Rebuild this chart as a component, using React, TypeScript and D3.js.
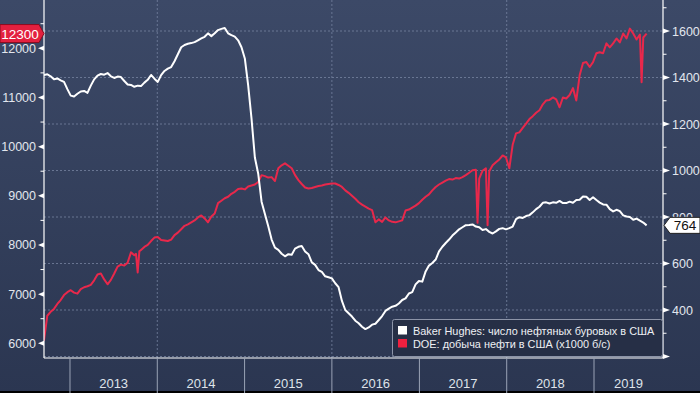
import React from "react";
import * as d3 from "d3";

const W = 700;
const H = 393;

// biweekly observations starting 2012-09-14
const seriesStart = new Date(2012, 8, 14);
const stepDays = 14;

// Baker Hughes oil rigs (right axis)
const rigValues = [
  1411, 1414, 1405, 1392, 1396, 1388, 1381, 1350, 1322, 1318,
  1330, 1340, 1342, 1334, 1365, 1392, 1408, 1415, 1412, 1419,
  1405, 1398, 1404, 1402, 1385, 1370, 1368, 1360, 1365, 1363,
  1378, 1390, 1411, 1395, 1381, 1410, 1428, 1438, 1445, 1470,
  1500, 1530, 1540, 1545, 1548, 1552, 1560, 1568, 1575, 1590,
  1578, 1590, 1604, 1609, 1613, 1590, 1582, 1576, 1560, 1530,
  1482, 1366, 1223, 1056, 986, 866, 813, 760, 703, 668,
  659, 642, 631, 640, 638, 664, 672, 675, 652, 640,
  605, 594, 572, 564, 545, 541,
  536, 515, 498, 439, 400, 386, 372, 354, 343, 328,
  318, 325, 337, 341, 357, 374, 396, 406, 414, 418,
  428, 443, 450, 471, 477, 510, 525,
  522, 566, 591, 602, 617, 652, 672, 688, 703, 720,
  733, 747, 756, 765, 766, 768, 759, 756, 744, 748,
  736, 729, 738, 749, 752, 747,
  752, 759, 791, 799, 796, 804, 808, 820, 834, 844,
  861, 863, 858, 863, 861, 869, 860, 860, 866, 861,
  873, 874, 888, 887, 873, 885,
  873, 862, 854, 853, 834, 824, 831, 825, 807, 802,
  800, 788, 793, 784, 776, 764,
];

// DOE US crude production, thousand b/d (left axis), biweekly
const prodValues = [
  6050, 6560, 6640, 6700, 6800, 6880, 6980, 7040, 7080, 7030,
  7010, 7100, 7140, 7160, 7190, 7280, 7400, 7420, 7300, 7200,
  7290, 7420, 7560, 7600, 7580, 7640, 7850, 7790, 7440, 7900,
  7960, 8000, 8080, 8150, 8160, 8100, 8090, 8080, 8110, 8200,
  8250, 8320, 8390, 8420, 8460, 8500, 8560, 8600, 8540, 8460,
  8580, 8640, 8850, 8900, 8950, 8980, 9040, 9080, 9140, 9150,
  9130, 9190, 9210, 9230, 9280, 9420, 9400, 9370, 9380, 9300,
  9560, 9620, 9660, 9610, 9560, 9420, 9320, 9240, 9170, 9150,
  9160, 9180, 9200, 9210, 9230, 9240, 9250, 9250, 9220, 9180,
  9110, 9060, 9000, 8940, 8870, 8820, 8780, 8740, 8710, 8460,
  8520, 8470, 8560, 8500, 8470, 8460, 8480, 8500, 8700, 8720,
  8760, 8800, 8850, 8920, 8980, 9030, 9110, 9180, 9230, 9270,
  9310, 9340, 9330, 9360, 9350, 9380, 9420, 9470, 9520, 9530,
  9350, 9510, 9560, 9500, 9620, 9680, 9740, 9820, 9780, 9560,
  10040, 10270, 10290, 10380, 10470, 10560, 10620, 10690, 10740, 10860,
  10940, 10950, 11000, 10960, 10800, 11000, 10980, 11050, 11190, 10940,
  11450, 11700, 11720, 11620, 11720, 11900, 11920, 11900, 12100, 12020,
  12100, 12200, 12120, 12300, 12200, 12400, 12300, 12180, 12280, 12220,
  12300,
];

// single-week outages in the production series
const prodSpikeDates = ["2013-10-04", "2013-10-18", "2017-09-01", "2017-10-13", "2019-07-19"];
const prodSpikeValues = [7820, 7870, 8450, 8400, 11310];

const leftTicks = [6000, 7000, 8000, 9000, 10000, 11000, 12000];
const leftMinorTicks = [6500, 7500, 8500, 9500, 10500, 11500, 12500];
const rightTicks = [200, 400, 600, 800, 1000, 1200, 1400, 1600];
const rightMinorTicks = [300, 500, 700, 900, 1100, 1300, 1500, 1700];
const yearLabels = [2013, 2014, 2015, 2016, 2017, 2018, 2019];
const gridYears = [2014, 2016, 2018];
const legendLabels = [
  "Baker Hughes: число нефтяных буровых в США",
  "DOE: добыча нефти в США (x1000 б/с)",
];
const prodLast = "12300";
const rigLast = "764";

const FONT = "'Liberation Sans', Arial, sans-serif";
const RED = "#e8284b";

type Pt = { date: Date; value: number };

export default function App() {
  const L = 44, R = 663, T = 0, B = 358;
  const x = d3
    .scaleTime()
    .domain([new Date(2012, 8, 14, 7), new Date(2019, 9, 16, 12)])
    .range([L, R]);
  const yL = d3.scaleLinear().domain([6000, 12000]).range([343.3, 48.3]);
  const yR = d3.scaleLinear().domain([400, 1600]).range([310, 31]);
  const parse = d3.timeParse("%Y-%m-%d");

  const rigPts: Pt[] = rigValues.map((v, i) => ({
    date: d3.timeDay.offset(seriesStart, i * stepDays),
    value: v,
  }));
  const prodPts: Pt[] = prodValues
    .map((v, i) => ({ date: d3.timeDay.offset(seriesStart, i * stepDays), value: v }))
    .concat(prodSpikeDates.map((d, i) => ({ date: parse(d) as Date, value: prodSpikeValues[i] })))
    .sort((a, b) => +a.date - +b.date);

  const rigLine = d3
    .line<Pt>()
    .x((d) => x(d.date))
    .y((d) => yR(d.value));
  const prodLine = d3
    .line<Pt>()
    .x((d) => x(d.date))
    .y((d) => yL(d.value));

  const yProd = yL(+prodLast);
  const yRig = yR(+rigLast);

  return (
    <svg
      width={W}
      height={H}
      style={{ position: "absolute", left: 0, top: 0, display: "block" }}
      fontFamily={FONT}
    >
      <defs>
        <linearGradient id="bg" x1="0" y1="0" x2="0" y2="1">
          <stop offset="0" stopColor="#3c4967" />
          <stop offset="1" stopColor="#2b3651" />
        </linearGradient>
        <clipPath id="plot">
          <rect x={L} y={T} width={R - L} height={B - T} />
        </clipPath>
      </defs>
      <rect x={0} y={0} width={W} height={H} fill="url(#bg)" />
      <rect x={0} y={391} width={W} height={2} fill="#000" />

      {/* horizontal grid */}
      {rightTicks.map((t) => (
        <line
          key={"hg" + t}
          x1={L}
          x2={R}
          y1={yR(t)}
          y2={yR(t)}
          stroke="#7683a0"
          strokeWidth={1}
          strokeDasharray="2,2"
          opacity={0.8}
        />
      ))}
      {gridYears.map((yr) => (
        <line
          key={"vg" + yr}
          x1={x(new Date(yr, 0, 1))}
          x2={x(new Date(yr, 0, 1))}
          y1={T}
          y2={B}
          stroke="#7683a0"
          strokeWidth={1}
          strokeDasharray="2,2"
          opacity={0.8}
        />
      ))}

      {/* lines */}
      <g clipPath="url(#plot)">
        <path d={prodLine(prodPts) || ""} fill="none" stroke={RED} strokeWidth={2} strokeLinejoin="round" />
        <path d={rigLine(rigPts) || ""} fill="none" stroke="#ffffff" strokeWidth={2} strokeLinejoin="round" />
      </g>

      {/* axes lines */}
      <line x1={L} x2={L} y1={0} y2={B} stroke="#fff" strokeWidth={1.2} />
      <line x1={R} x2={R} y1={0} y2={B} stroke="#fff" strokeWidth={1.2} />
      <line x1={L} x2={R} y1={B} y2={B} stroke="#fff" strokeWidth={1.2} />

      {/* left axis */}
      {leftTicks.map((t) => (
        <g key={"lt" + t}>
          <path d={`M${L},${yL(t) - 2.5} L${L - 6},${yL(t)} L${L},${yL(t) + 2.5} Z`} fill="#fff" />
          <text x={36} y={yL(t) + 4.5} textAnchor="end" fontSize={12.5} fill="#e2e6ee">
            {t}
          </text>
        </g>
      ))}
      {leftMinorTicks.map((t) => (
        <line key={"lm" + t} x1={L - 3.5} x2={L} y1={yL(t)} y2={yL(t)} stroke="#fff" strokeWidth={1} />
      ))}

      {/* right axis */}
      {rightTicks.map((t) => (
        <g key={"rt" + t}>
          <path d={`M${R},${yR(t) - 2.5} L${R + 7},${yR(t)} L${R},${yR(t) + 2.5} Z`} fill="#fff" />
          {t > 200 && (
            <text x={672} y={yR(t) + 4.5} fontSize={12.5} fill="#e2e6ee">
              {t}
            </text>
          )}
        </g>
      ))}
      {rightMinorTicks.map((t) => (
        <line key={"rm" + t} x1={R} x2={R + 3.5} y1={yR(t)} y2={yR(t)} stroke="#fff" strokeWidth={1} />
      ))}

      {/* x axis band */}
      {yearLabels.map((yr) => {
        const x0 = x(new Date(yr, 0, 1));
        const x1 = Math.min(x(new Date(yr + 1, 0, 1)), R);
        return (
          <g key={"yr" + yr}>
            <line x1={x0} x2={x0} y1={B} y2={H} stroke="#9aa3b6" strokeWidth={1} />
            <text x={(x0 + x1) / 2} y={388} textAnchor="middle" fontSize={13} fill="#dfe3ea">
              {yr}
            </text>
          </g>
        );
      })}

      {/* legend */}
      <rect x={392.5} y={319.5} width={270} height={37} rx={2} fill="#262f46" stroke="#8c94a8" strokeWidth={1} />
      {legendLabels.map((lab, i) => (
        <g key={"lg" + i}>
          <rect x={398} y={326 + i * 13} width={9} height={8.5} fill={i === 0 ? "#ffffff" : "#f0203f"} />
          <text x={413} y={335 + i * 13} fontSize={10.9} fill="#eef0f4">
            {lab}
          </text>
        </g>
      ))}

      {/* last value labels */}
      <path
        d={`M0,${yProd - 9} H39 L44,${yProd} L39,${yProd + 9} H0 Z`}
        fill="#e3203f"
        stroke="#8a0c1f"
        strokeWidth={1}
      />
      <text x={20} y={yProd + 5} textAnchor="middle" fontSize={13.5} fill="#fff">
        {prodLast}
      </text>
      <path
        d={`M664,${yRig} L670,${yRig - 8} H700 V${yRig + 8} H670 Z`}
        fill="#ffffff"
        stroke="#222"
        strokeWidth={1}
      />
      <text x={685} y={yRig + 5} textAnchor="middle" fontSize={13.5} fill="#111">
        {rigLast}
      </text>
    </svg>
  );
}
